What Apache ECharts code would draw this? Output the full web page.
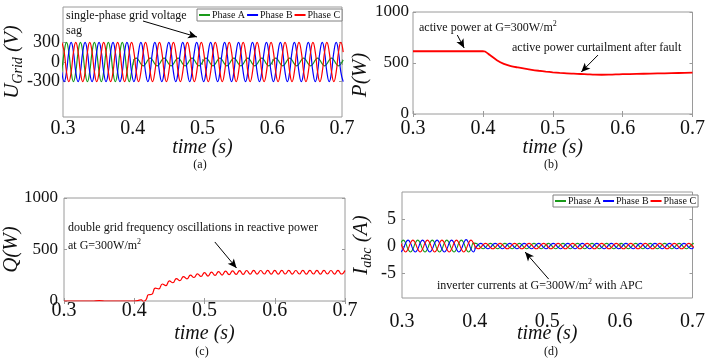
<!DOCTYPE html>
<html>
<head>
<meta charset="utf-8">
<script src="https://cdn.jsdelivr.net/npm/echarts@6/dist/echarts.min.js"></script>
<style>
  html, body { margin: 0; padding: 0; background: #fff; }
  #chart { width: 708px; height: 358px; }
</style>
</head>
<body>
<div id="chart"></div>
<script>
// sample instants for the 50 Hz waveforms (6 per cycle)
const times = [0.2983,
  0.3017,0.3050,0.3083,0.3117,0.3150,0.3183,0.3217,0.3250,0.3283,0.3317,0.3350,0.3383,0.3417,0.3450,0.3483,0.3517,0.3550,0.3583,0.3617,0.3650,0.3683,0.3717,0.3750,0.3783,0.3817,0.3850,0.3883,0.3917,0.3950,0.3983,
  0.4017,0.4050,0.4083,0.4117,0.4150,0.4183,0.4217,0.4250,0.4283,0.4317,0.4350,0.4383,0.4417,0.4450,0.4483,0.4517,0.4550,0.4583,0.4617,0.4650,0.4683,0.4717,0.4750,0.4783,0.4817,0.4850,0.4883,0.4917,0.4950,0.4983,
  0.5017,0.5050,0.5083,0.5117,0.5150,0.5183,0.5217,0.5250,0.5283,0.5317,0.5350,0.5383,0.5417,0.5450,0.5483,0.5517,0.5550,0.5583,0.5617,0.5650,0.5683,0.5717,0.5750,0.5783,0.5817,0.5850,0.5883,0.5917,0.5950,0.5983,
  0.6017,0.6050,0.6083,0.6117,0.6150,0.6183,0.6217,0.6250,0.6283,0.6317,0.6350,0.6383,0.6417,0.6450,0.6483,0.6517,0.6550,0.6583,0.6617,0.6650,0.6683,0.6717,0.6750,0.6783,0.6817,0.6850,0.6883,0.6917,0.6950,0.6983,
  0.7017];

// (a) grid voltages (V)
const voltA = [-150,
  150,300,150,-150,-300,-150,150,300,150,-150,-300,-150,150,300,150,-150,-300,-150,150,300,150,-150,-300,-150,150,300,150,-150,-300,-150,
  30,60,30,-30,-60,-30,30,60,30,-30,-60,-30,30,60,30,-30,-60,-30,30,60,30,-30,-60,-30,30,60,30,-30,-60,-30,
  30,60,30,-30,-60,-30,30,60,30,-30,-60,-30,30,60,30,-30,-60,-30,30,60,30,-30,-60,-30,30,60,30,-30,-60,-30,
  30,60,30,-30,-60,-30,30,60,30,-30,-60,-30,30,60,30,-30,-60,-30,30,60,30,-30,-60,-30,30,60,30,-30,-60,-30,
  30];
const voltB = [-150,
  -300,-150,150,300,150,-150,-300,-150,150,300,150,-150,-300,-150,150,300,150,-150,-300,-150,150,300,150,-150,-300,-150,150,300,150,-150,
  -300,-150,150,300,150,-150,-300,-150,150,300,150,-150,-300,-150,150,300,150,-150,-300,-150,150,300,150,-150,-300,-150,150,300,150,-150,
  -300,-150,150,300,150,-150,-300,-150,150,300,150,-150,-300,-150,150,300,150,-150,-300,-150,150,300,150,-150,-300,-150,150,300,150,-150,
  -300,-150,150,300,150,-150,-300,-150,150,300,150,-150,-300,-150,150,300,150,-150,-300,-150,150,300,150,-150,-300,-150,150,300,150,-150,
  -300];
const voltC = [300,
  150,-150,-300,-150,150,300,150,-150,-300,-150,150,300,150,-150,-300,-150,150,300,150,-150,-300,-150,150,300,150,-150,-300,-150,150,300,
  150,-150,-300,-150,150,300,150,-150,-300,-150,150,300,150,-150,-300,-150,150,300,150,-150,-300,-150,150,300,150,-150,-300,-150,150,300,
  150,-150,-300,-150,150,300,150,-150,-300,-150,150,300,150,-150,-300,-150,150,300,150,-150,-300,-150,150,300,150,-150,-300,-150,150,300,
  150,-150,-300,-150,150,300,150,-150,-300,-150,150,300,150,-150,-300,-150,150,300,150,-150,-300,-150,150,300,150,-150,-300,-150,150,300,
  150];

// (d) inverter currents (A)
const currA = [0.55,
  1.1,0.55,-0.55,-1.1,-0.55,0.55,1.1,0.55,-0.55,-1.1,-0.55,0.55,1.1,0.55,-0.55,-1.1,-0.55,0.55,1.1,0.55,-0.55,-1.1,-0.55,0.55,1.1,0.55,-0.55,-1.1,-0.55,0.55,
  0.5,0.25,-0.25,-0.5,-0.25,0.25,0.5,0.25,-0.25,-0.5,-0.25,0.25,0.5,0.25,-0.25,-0.5,-0.25,0.25,0.5,0.25,-0.25,-0.5,-0.25,0.25,0.5,0.25,-0.25,-0.5,-0.25,0.25,
  0.5,0.25,-0.25,-0.5,-0.25,0.25,0.5,0.25,-0.25,-0.5,-0.25,0.25,0.5,0.25,-0.25,-0.5,-0.25,0.25,0.5,0.25,-0.25,-0.5,-0.25,0.25,0.5,0.25,-0.25,-0.5,-0.25,0.25,
  0.5,0.25,-0.25,-0.5,-0.25,0.25,0.5,0.25,-0.25,-0.5,-0.25,0.25,0.5,0.25,-0.25,-0.5,-0.25,0.25,0.5,0.25,-0.25,-0.5,-0.25,0.25,0.5,0.25,-0.25,-0.5,-0.25,0.25,
  0.5];
const currB = [-1.1,
  -0.55,0.55,1.1,0.55,-0.55,-1.1,-0.55,0.55,1.1,0.55,-0.55,-1.1,-0.55,0.55,1.1,0.55,-0.55,-1.1,-0.55,0.55,1.1,0.55,-0.55,-1.1,-0.55,0.55,1.2,0.55,-0.55,-1.1,
  -0.25,0.25,0.5,0.25,-0.25,-0.5,-0.25,0.25,0.5,0.25,-0.25,-0.5,-0.25,0.25,0.5,0.25,-0.25,-0.5,-0.25,0.25,0.5,0.25,-0.25,-0.5,-0.25,0.25,0.5,0.25,-0.25,-0.5,
  -0.25,0.25,0.5,0.25,-0.25,-0.5,-0.25,0.25,0.5,0.25,-0.25,-0.5,-0.25,0.25,0.5,0.25,-0.25,-0.5,-0.25,0.25,0.5,0.25,-0.25,-0.5,-0.25,0.25,0.5,0.25,-0.25,-0.5,
  -0.25,0.25,0.5,0.25,-0.25,-0.5,-0.25,0.25,0.5,0.25,-0.25,-0.5,-0.25,0.25,0.5,0.25,-0.25,-0.5,-0.25,0.25,0.5,0.25,-0.25,-0.5,-0.25,0.25,0.5,0.25,-0.25,-0.5,
  -0.25];
const currC = [0.55,
  -0.55,-1.1,-0.55,0.55,1.1,0.55,-0.55,-1.1,-0.55,0.55,1.1,0.55,-0.55,-1.1,-0.55,0.55,1.1,0.55,-0.55,-1.1,-0.55,0.55,1.1,0.55,-0.55,-1.1,-0.55,0.55,1.1,0.55,
  -0.25,-0.5,-0.25,0.25,0.5,0.25,-0.25,-0.5,-0.25,0.25,0.5,0.25,-0.25,-0.5,-0.25,0.25,0.5,0.25,-0.25,-0.5,-0.25,0.25,0.5,0.25,-0.25,-0.5,-0.25,0.25,0.5,0.25,
  -0.25,-0.5,-0.25,0.25,0.5,0.25,-0.25,-0.5,-0.25,0.25,0.5,0.25,-0.25,-0.5,-0.25,0.25,0.5,0.25,-0.25,-0.5,-0.25,0.25,0.5,0.25,-0.25,-0.5,-0.25,0.25,0.5,0.25,
  -0.25,-0.5,-0.25,0.25,0.5,0.25,-0.25,-0.5,-0.25,0.25,0.5,0.25,-0.25,-0.5,-0.25,0.25,0.5,0.25,-0.25,-0.5,-0.25,0.25,0.5,0.25,-0.25,-0.5,-0.25,0.25,0.5,0.25,
  -0.25];

// (b) active power (W)
const pTime = [0.300,0.400,0.403,0.410,0.420,0.430,0.440,0.450,0.460,0.470,0.480,0.490,0.500,0.510,0.520,0.530,0.540,0.550,0.560,0.570,0.580,0.590,0.600,0.620,0.640,0.660,0.680,0.700];
const pVal = [615,615,612,578,528,492,470,456,444,433,424,416,409,403,398,395,392,389,386,385,386,388,390,393,396,399,402,405];

// (c) reactive power (W)
const qTime = [0.300,0.340,0.350,0.360,0.400,0.405,0.410,0.4125,0.415,0.4175,
  0.420,0.425,0.430,0.435,0.440,0.445,0.450,0.455,0.460,0.465,0.470,0.475,0.480,0.485,0.490,0.495,
  0.500,0.505,0.510,0.515,0.520,0.525,0.530,0.535,0.540,0.545,0.550,0.555,0.560,0.565,0.570,0.575,0.580,0.585,0.590,0.595,
  0.600,0.605,0.610,0.615,0.620,0.625,0.630,0.635,0.640,0.645,0.650,0.655,0.660,0.665,0.670,0.675,0.680,0.685,0.690,0.695,0.700];
const qVal = [0,0,4,0,0,3,12,-4,0,22,
  60,65,125,117,165,150,195,177,218,197,237,215,252,228,263,238,
  275,242,281,248,286,252,290,256,293,258,295,259,296,260,297,261,296,262,298,261,
  297,260,298,262,297,261,296,262,298,261,297,262,298,261,297,262,296,261,298,262,297];

const xTicks = [0.3, 0.4, 0.5, 0.6, 0.7];
const uTicks = [-300, 0, 300];
const pqTicks = [0, 500, 1000];
const iTicks = [-5, 0, 5];
const phaseNames = ['Phase A', 'Phase B', 'Phase C'];

const font = 'Liberation Serif';
const ink = '#111';
const frame = '#9a9a9a';
const green = '#1a9a1a', blue = '#0000ff', red = '#ff0000';

const pairs = (xs, ys) => xs.map((x, i) => [x, ys[i]]);

const arrow = (...segments) => ({
  silent: true,
  animation: false,
  symbol: ['none', 'arrow'],
  symbolSize: [6, 9],
  label: { show: false },
  lineStyle: { color: '#000', width: 1, type: 'solid' },
  data: segments.map(s => [{ coord: s[0] }, { coord: s[1] }])
});

const bottomAxis = (gi, margin, nameGap) => ({
  type: 'value', gridIndex: gi, min: 0.3, max: 0.7,
  axisLine: { show: false },
  axisTick: { inside: true, length: 3, lineStyle: { color: frame }, customValues: xTicks },
  splitLine: { show: false },
  axisLabel: {
    customValues: xTicks, color: ink, margin, fontFamily: font, fontSize: 20,
    formatter: v => v.toFixed(1)
  },
  name: 'time (s)', nameLocation: 'middle', nameGap, nameMoveOverlap: false,
  nameTextStyle: { fontFamily: font, fontStyle: 'italic', fontSize: 20, color: ink }
});
const topAxis = gi => ({
  type: 'value', gridIndex: gi, position: 'top', min: 0.3, max: 0.7,
  axisLine: { show: false }, axisLabel: { show: false }, splitLine: { show: false },
  axisTick: { inside: true, length: 3, lineStyle: { color: frame }, customValues: xTicks }
});
const leftAxis = (gi, min, max, ticks, size, margin, name, nameGap, nameStyle) => ({
  type: 'value', gridIndex: gi, min, max,
  axisLine: { show: false },
  axisTick: { inside: true, length: 3, lineStyle: { color: frame }, customValues: ticks },
  splitLine: { show: false },
  axisLabel: {
    customValues: ticks, color: ink, margin, fontFamily: font, fontSize: size,
    formatter: v => String(v)
  },
  name, nameLocation: 'middle', nameGap, nameMoveOverlap: false,
  nameTextStyle: Object.assign({ fontFamily: font, fontStyle: 'italic', fontSize: 21, color: ink }, nameStyle || {})
});
const rightAxis = (gi, min, max, ticks) => ({
  type: 'value', gridIndex: gi, position: 'right', min, max,
  axisLine: { show: false }, axisLabel: { show: false }, splitLine: { show: false },
  axisTick: { inside: true, length: 3, lineStyle: { color: frame }, customValues: ticks }
});

const subName = {
  rich: { s: { fontFamily: font, fontStyle: 'italic', fontSize: 14, color: ink, padding: [12, 0, 0, 0] } }
};
const supRich = {
  t: { fontFamily: font, fontSize: 12, fill: ink },
  p: { fontFamily: font, fontSize: 8, fill: ink, padding: [0, 0, 8, 0] }
};

const legendBase = {
  data: phaseNames, orient: 'horizontal', icon: 'rect', itemWidth: 11, itemHeight: 2,
  itemGap: 2, padding: [1, 2], borderColor: '#808080', borderWidth: 1, backgroundColor: '#fff',
  selectedMode: false,
  textStyle: { fontFamily: font, fontSize: 10, color: ink, padding: [0, 0, 0, -3] }
};

const wave = (name, color, xi, ys, extra) => Object.assign({
  name, type: 'line', xAxisIndex: xi, yAxisIndex: xi, data: pairs(times, ys),
  smooth: true, showSymbol: false, color, lineStyle: { width: 1.2, color }
}, extra || {});

const caption = (x, y, text) => ({
  type: 'text', x, y,
  style: { text, fontFamily: font, fontSize: 12, fill: ink, align: 'center', verticalAlign: 'middle' }
});

const chart = echarts.init(document.getElementById('chart'));
chart.setOption({
  animation: false,
  backgroundColor: '#fff',
  textStyle: { fontFamily: font },
  grid: [
    { left: 63, top: 7, width: 279, height: 110, show: true, borderColor: frame, borderWidth: 1 },
    { left: 413, top: 12, width: 284, height: 102, show: true, borderColor: frame, borderWidth: 1 },
    { left: 60, top: 198, width: 285, height: 103, show: true, borderColor: frame, borderWidth: 1 },
    { left: 402, top: 192, width: 295, height: 106, show: true, borderColor: frame, borderWidth: 1 }
  ],
  xAxis: [
    bottomAxis(0, 2, 21), bottomAxis(1, 5, 24), bottomAxis(2, 0, 23), bottomAxis(3, 14, 26),
    topAxis(0), topAxis(1), topAxis(2), topAxis(3)
  ],
  yAxis: [
    leftAxis(0, -840, 840, uTicks, 18, 3, 'U{s|Grid} (V)', 38, subName),
    leftAxis(1, 0, 1000, pqTicks, 17, 4, 'P(W)', 42, { padding: [0, 24, 0, 0] }),
    leftAxis(2, 0, 1000, pqTicks, 17, 6, 'Q(W)', 42),
    leftAxis(3, -9.6, 10, iTicks, 18, 6, 'I{s|abc} (A)', 28, subName),
    rightAxis(0, -840, 840, uTicks), rightAxis(1, 0, 1000, pqTicks),
    rightAxis(2, 0, 1000, pqTicks), rightAxis(3, -9.6, 10, iTicks)
  ],
  legend: [
    Object.assign({}, legendBase, { left: 197, top: 9 }),
    Object.assign({}, legendBase, { left: 553, top: 195 })
  ],
  series: [
    wave('Phase A', green, 0, voltA),
    wave('Phase B', blue, 0, voltB),
    wave('Phase C', red, 0, voltC, { markLine: arrow([[0.4147, 626], [0.4921, 382]]) }),
    {
      name: 'P', type: 'line', xAxisIndex: 1, yAxisIndex: 1, data: pairs(pTime, pVal),
      smooth: 0.3, showSymbol: false, color: red, lineStyle: { width: 1.8, color: red },
      markLine: arrow([[0.3634, 774], [0.3732, 647]], [[0.5648, 578], [0.5408, 412]])
    },
    {
      name: 'Q', type: 'line', xAxisIndex: 2, yAxisIndex: 2, data: pairs(qTime, qVal),
      smooth: true, showSymbol: false, color: red, lineStyle: { width: 1.2, color: red },
      markLine: arrow([[0.5147, 573], [0.5456, 320]])
    },
    wave('Phase A', green, 3, currA, { lineStyle: { width: 1.1, color: green } }),
    wave('Phase B', blue, 3, currB, { lineStyle: { width: 1.1, color: blue } }),
    wave('Phase C', red, 3, currC, { lineStyle: { width: 1.1, color: red },
      markLine: arrow([[0.502, -6.1], [0.4695, -1.1]]) })
  ],
  graphic: [
    { type: 'text', left: 66, top: 8, z: 100,
      style: { text: 'single-phase grid voltage\nsag', fontFamily: font, fontSize: 12, fill: ink, lineHeight: 15 } },
    { type: 'text', left: 419, top: 20, z: 100,
      style: { text: '{t|active power at G=300W/m}{p|2}', rich: supRich } },
    { type: 'text', left: 512, top: 42, z: 100,
      style: { text: 'active power curtailment after fault', fontFamily: font, fontSize: 12, fill: ink } },
    { type: 'text', left: 68, top: 222, z: 100,
      style: { text: 'double grid frequency oscillations in reactive power', fontFamily: font, fontSize: 12, fill: ink } },
    { type: 'text', left: 68, top: 238, z: 100,
      style: { text: '{t|at G=300W/m}{p|2}', rich: supRich } },
    { type: 'text', left: 437, top: 278, z: 100,
      style: { text: '{t|inverter currents at G=300W/m}{p|2}{t| with APC}', rich: supRich } },
    caption(200, 165, '(a)'),
    caption(551, 165, '(b)'),
    caption(202, 352, '(c)'),
    caption(551, 352, '(d)')
  ]
});
</script>
</body>
</html>
